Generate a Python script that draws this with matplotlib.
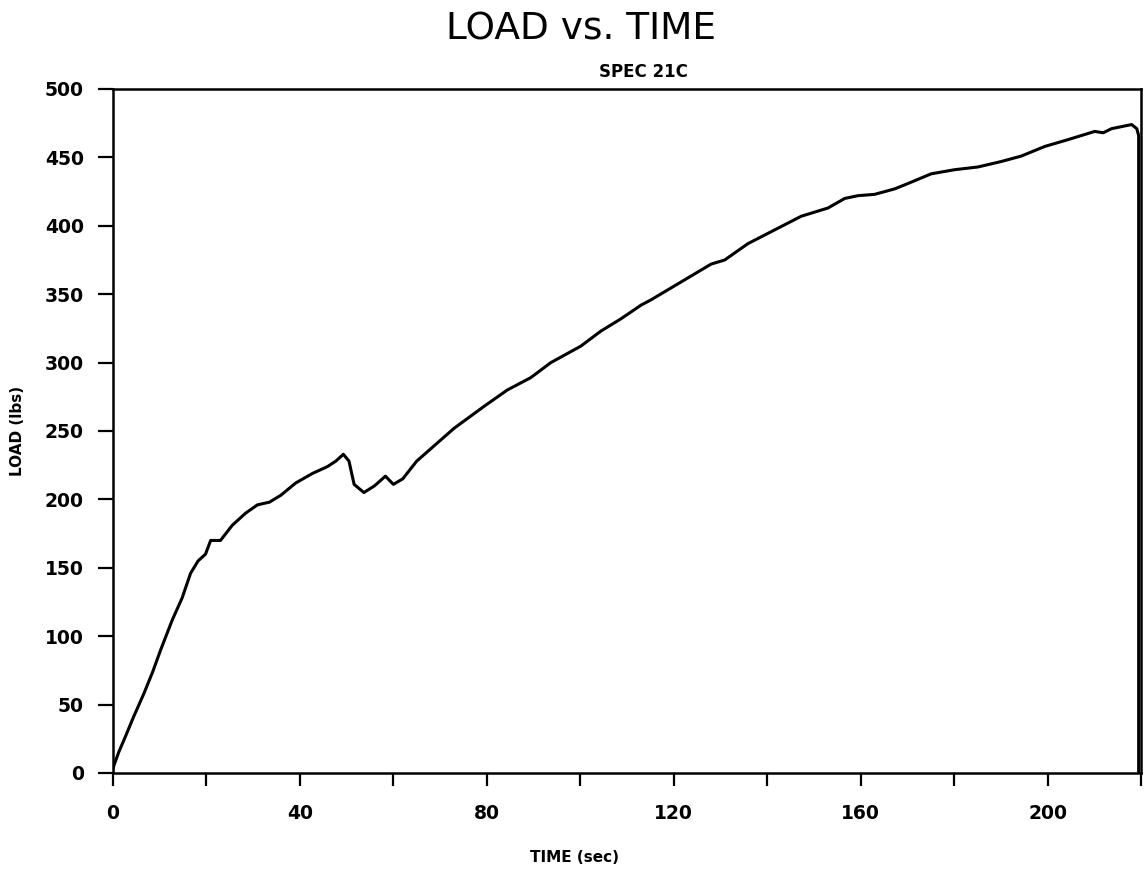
import matplotlib
matplotlib.use("Agg")
import matplotlib.pyplot as plt

# load curve
time_sec = [0, 0.15, 1.2, 2.7, 4.4, 6.6, 8.5, 10.2, 12.7, 14.8, 16.6, 18.2, 19.8,
            20.9, 23.0, 25.5, 28.4, 30.9, 33.5, 35.9, 39.1, 42.7, 45.9, 47.7, 49.3,
            50.5, 51.6, 53.7, 56.0, 58.3, 60.0, 62.0, 65.0, 70.0, 73.0, 79.4, 84.4,
            89.4, 93.7, 100.1, 104.4, 108.7, 113.0, 115.2, 121.6, 128.0, 130.9,
            135.9, 141.6, 147.3, 153.0, 156.6, 159.4, 163.0, 167.3, 170.2, 175.1,
            180.1, 185.1, 190.1, 194.4, 199.4, 204.4, 210.1, 211.9, 213.7, 218.0,
            219.1, 219.5, 219.5]
load_lbs = [3, 5, 15, 27, 41, 58, 74, 90, 112, 128, 146, 155, 160,
            170, 170, 181, 190, 196, 198, 203, 212, 219, 224, 228, 233,
            228, 211, 205, 210, 217, 211, 215, 228, 243, 252, 268, 280,
            289, 300, 312, 323, 332, 342, 346, 359, 372, 375,
            387, 397, 407, 413, 420, 422, 423, 427, 431, 438,
            441, 443, 447, 451, 458, 463, 469, 468, 471, 474,
            471, 466, 0]

x_ticks = list(range(0, 221, 20))
x_labels = [str(t) if t % 40 == 0 and t <= 200 else "" for t in x_ticks]
y_ticks = list(range(0, 501, 50))

fig = plt.figure(figsize=(11.48, 8.77), dpi=100)
ax = fig.add_axes([113 / 1148, 1 - 773 / 877, 1028 / 1148, 684 / 877])

ax.plot(time_sec, load_lbs, color="black", linewidth=2.2)

ax.set_xlim(0, 220)
ax.set_ylim(0, 500)
ax.set_xticks(x_ticks)
ax.set_xticklabels(x_labels)
ax.set_yticks(y_ticks)
ax.tick_params(axis="x", direction="out", length=9, width=1.6, pad=13,
               labelsize=13.5)
ax.tick_params(axis="y", direction="out", length=11, width=1.6, pad=10,
               labelsize=13.5)
for lbl in ax.get_xticklabels() + ax.get_yticklabels():
    lbl.set_fontweight("bold")
for s in ax.spines.values():
    s.set_linewidth(1.8)

fig.text(581 / 1148, 1 - 30 / 877, "LOAD vs. TIME", ha="center", va="center",
         fontsize=27, color="black")
fig.text(643 / 1148, 1 - 72 / 877, "SPEC 21C", ha="center", va="center",
         fontsize=12, fontweight="bold")
fig.text(574 / 1148, 1 - 858 / 877, "TIME (sec)", ha="center", va="center",
         fontsize=11, fontweight="bold")
fig.text(18 / 1148, 1 - 431 / 877, "LOAD (lbs)", ha="center", va="center",
         rotation=90, fontsize=11, fontweight="bold")

fig.savefig("out.png", dpi=100, facecolor="white")
